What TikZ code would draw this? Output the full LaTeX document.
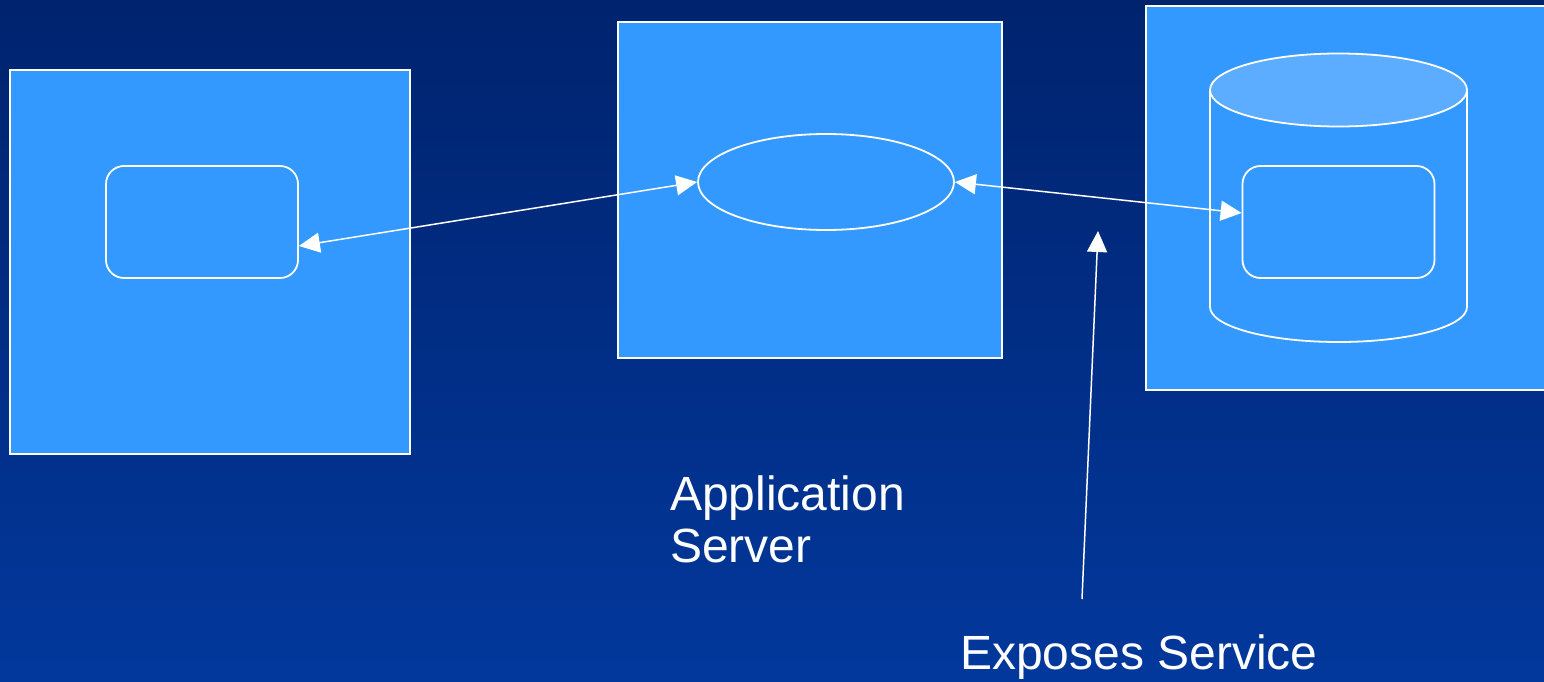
\documentclass[tikz,border=0pt]{standalone}
\usepackage{fontspec}
\setmainfont{Liberation Sans}
\usepackage{tikz}
\usetikzlibrary{arrows.meta}
\usetikzlibrary{shapes.geometric}
\definecolor{bgtop}{RGB}{0,35,110}
\definecolor{bgbot}{RGB}{2,56,156}
\definecolor{boxblue}{RGB}{51,153,255}
\definecolor{lidblue}{RGB}{92,172,255}
\tikzset{
  box/.style={draw=white,line width=1.3pt,fill=boxblue,inner sep=0pt},
  comp/.style={draw=white,line width=1.8pt,rounded corners=18pt,inner sep=0pt,minimum width=192,minimum height=112},
  link/.style={draw=white,line width=1.5pt,{Triangle[length=21pt,width=20pt]}-{Triangle[length=21pt,width=20pt]}},
  note/.style={text=white,inner sep=0pt,font=\fontsize{48pt}{52pt}\selectfont}
}

\begin{document}
\begin{tikzpicture}[x=1pt,y=-1pt]
\shade[top color=bgtop,bottom color=bgbot] (0,0) rectangle (1544,682);
\useasboundingbox (0,0) rectangle (1544,682);
\clip (0,0) rectangle (1544,682);
\node[box,minimum width=400,minimum height=384] (L) at (210,262) {};
\node[box,minimum width=384,minimum height=336] (M) at (810,190) {};
\node[box,minimum width=420,minimum height=384] (R) at (1356,198) {};
\draw[white,line width=1.8pt,fill=boxblue] (1210,90) -- (1210,307) arc[start angle=180,end angle=360,x radius=128.5pt,y radius=35pt] -- (1467,90);
\draw[white,line width=1.8pt,fill=lidblue] (1338.5,90) ellipse[x radius=128.5pt,y radius=36.5pt];
\node[comp] (P) at (202,222) {};
\node[comp] (D) at (1338.5,222) {};
\node[shape=ellipse,draw=white,line width=1.8pt,minimum width=256,minimum height=96,inner sep=0pt] (E) at (826,182) {};
\coordinate (T) at (1082,599);
\coordinate (H) at (1098,231);
\node[note,anchor=north west,align=left] (A) at (670,476) {Application\\Server};
\node[note,anchor=base west] (S) at (960,669) {Exposes Service};
\draw[link] ([yshift=-24pt]P.east) -- (E.west);
\draw[link] (E.east) -- ([yshift=9pt]D.west);
\draw[draw=white,line width=1.5pt,-{Triangle[length=21pt,width=20pt]}] (T) -- (H);
\end{tikzpicture}
\end{document}
